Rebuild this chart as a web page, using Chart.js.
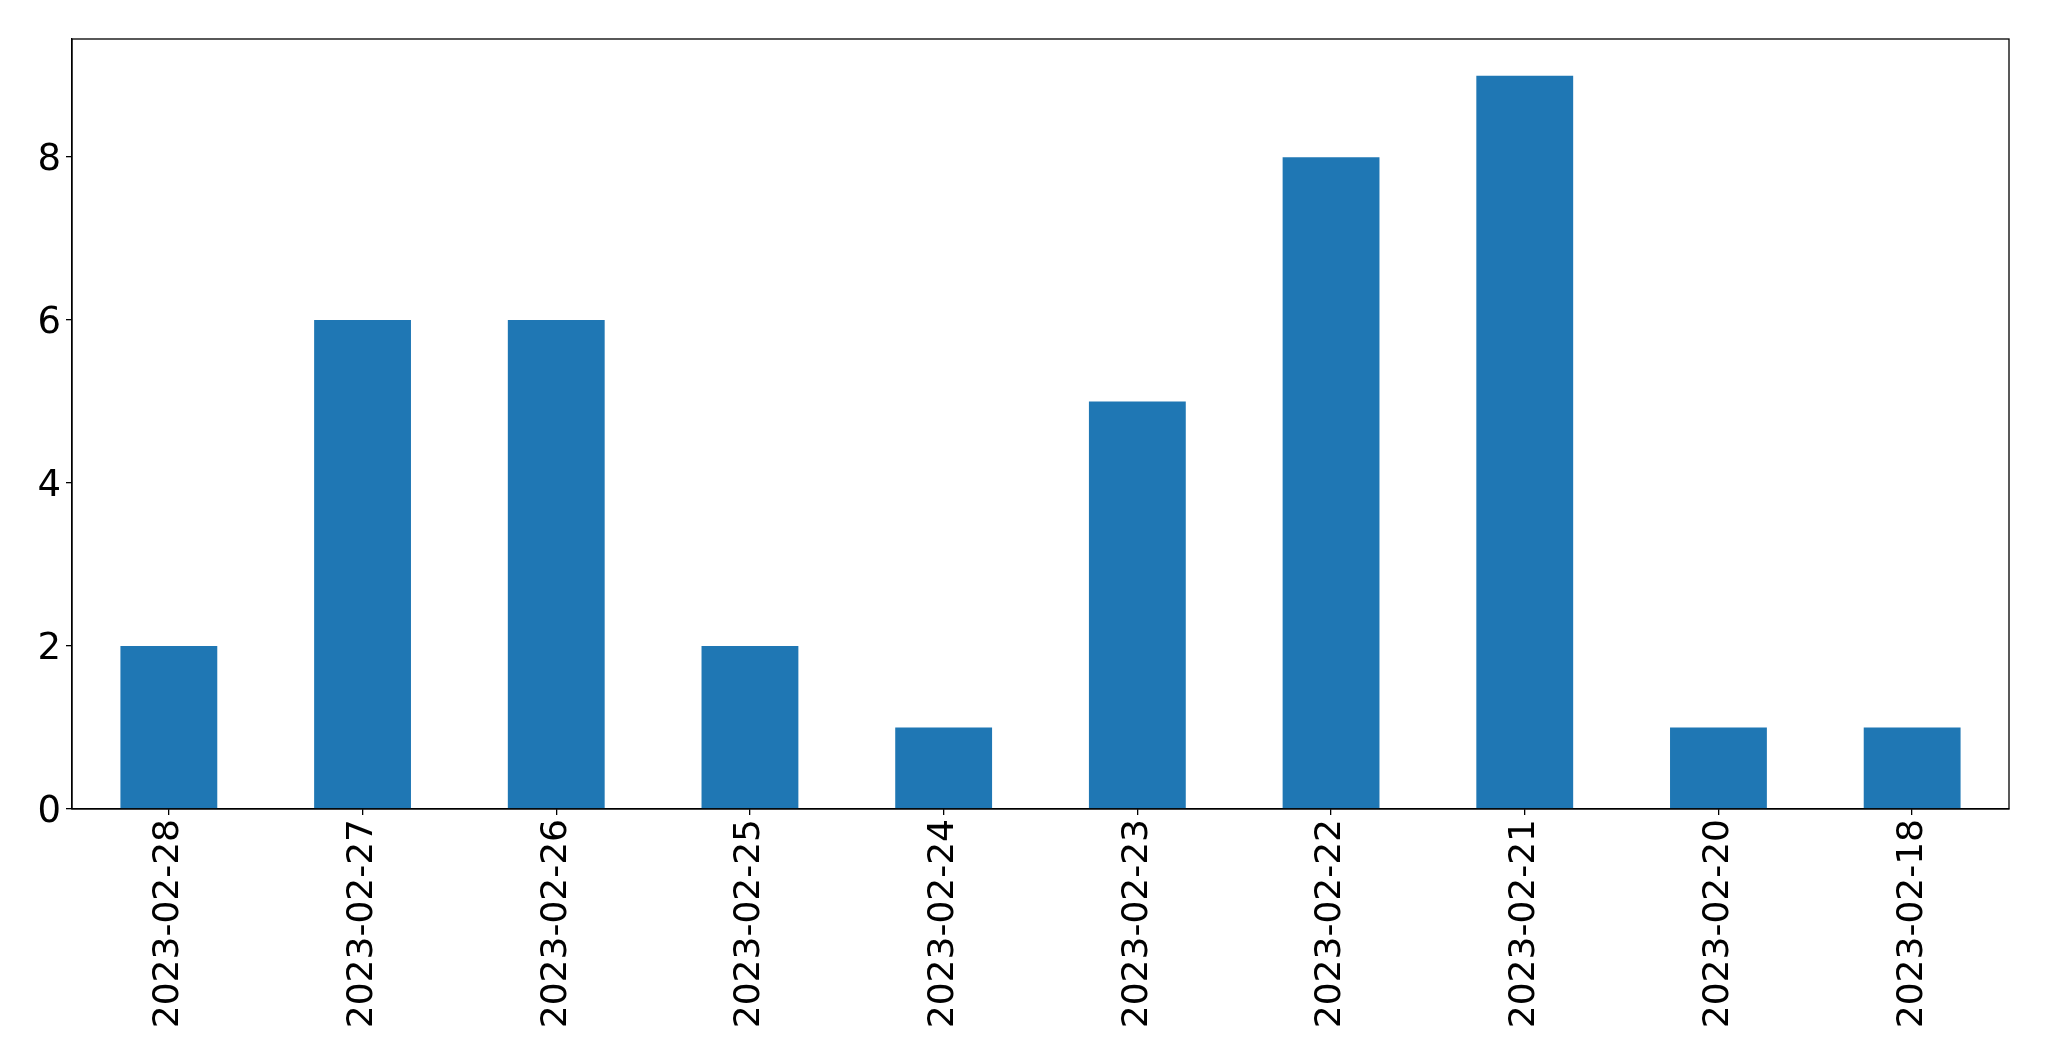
<!DOCTYPE html>
<html>
<head>
<meta charset="utf-8">
<script src="https://cdn.jsdelivr.net/npm/chart.js@4"></script>
<style>
  html, body { margin: 0; padding: 0; background: #fff; }
  #wrap { width: 2049px; height: 1061px; }
</style>
</head>
<body>
<div id="wrap"><canvas id="chart"></canvas></div>
<script>
const dates = ["2023-02-28", "2023-02-27", "2023-02-26", "2023-02-25", "2023-02-24",
  "2023-02-23", "2023-02-22", "2023-02-21", "2023-02-20", "2023-02-18"];
const counts = [2, 6, 6, 2, 1, 5, 8, 9, 1, 1];
const yTicks = [0, 2, 4, 6, 8];

const frame = {
  id: "frame",
  afterDraw(chart) {
    const { ctx, chartArea: a } = chart;
    ctx.save();
    ctx.strokeStyle = "#000";
    ctx.lineWidth = 1.3;
    ctx.strokeRect(a.left, a.top, a.right - a.left, a.bottom - a.top);
    ctx.restore();
  },
};

const font = { family: "DejaVu Sans", size: 36 };

new Chart(document.getElementById("chart"), {
  type: "bar",
  data: {
    labels: dates,
    datasets: [{
      data: counts,
      backgroundColor: "#1f77b4",
      barPercentage: 0.5,
      categoryPercentage: 1.0,
    }],
  },
  options: {
    responsive: true,
    maintainAspectRatio: false,
    animation: false,
    layout: { padding: { left: 0, top: 39, right: 40, bottom: 0 } },
    plugins: { legend: { display: false }, tooltip: { enabled: false } },
    scales: {
      x: {
        grid: { offset: false, drawOnChartArea: false, tickLength: 6, color: "#000", lineWidth: 1.3 },
        border: { display: true, color: "#000", width: 1.3 },
        ticks: { color: "#000", font, minRotation: 90, maxRotation: 90, padding: 4, autoSkip: false },
        afterFit(scale) { scale.height = 252; },
      },
      y: {
        min: 0,
        max: 9.45,
        grid: { drawOnChartArea: false, tickLength: 6, color: "#000", lineWidth: 1.3 },
        border: { display: true, color: "#000", width: 1.3 },
        afterBuildTicks(scale) { scale.ticks = yTicks.map((v) => ({ value: v })); },
        ticks: { color: "#000", font: { family: "DejaVu Sans", size: 37 }, padding: 5, labelOffset: 3 },
        afterFit(scale) { scale.width = 72; },
      },
    },
  },
  plugins: [frame],
});
</script>
</body>
</html>
